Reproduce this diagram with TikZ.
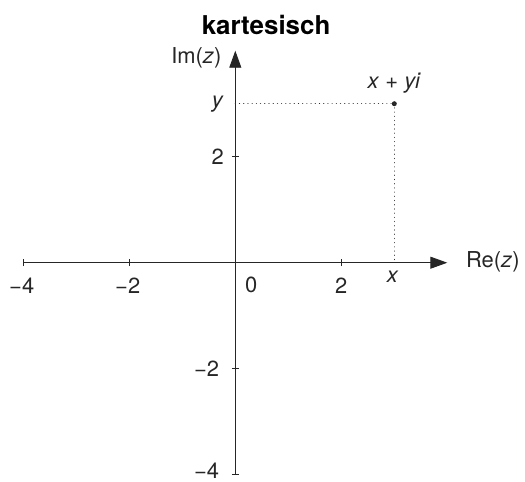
\documentclass[tikz,border=0pt]{standalone}
\usepackage{fontspec}
\setmainfont{TeX Gyre Heros}
\usetikzlibrary{arrows.meta}
\begin{document}
\begin{tikzpicture}[x=53bp,y=53bp,
  axis/.style={line width=0.9bp, draw=black!85},
  tick/.style={line width=0.7bp, draw=black!85},
  lbl/.style={font=\fontsize{22}{24}\selectfont, text=black!85, inner sep=0pt},
  ttl/.style={font=\fontsize{26}{28}\selectfont\bfseries, inner sep=0pt},
  guide/.style={line width=1.2bp, dash pattern=on 0.01bp off 4.2bp, line cap=round, draw=black!80}]
\useasboundingbox (-4.440,-4.119) rectangle (5.466,4.957);
\coordinate (xl) at (-4,0);
\coordinate (xr) at (4,0);
\coordinate (yb) at (0,-4);
\coordinate (yt) at (0,4);
\coordinate (px) at (3,0);
\coordinate (py) at (0,3);
\draw[axis, -{Triangle[length=17bp,width=12bp]}] (xl) -- (xr);
\draw[axis, -{Triangle[length=17bp,width=12bp]}] (yb) -- (yt);
\foreach \v in {-4,-2,2} {
  \draw[tick] (\v,-3.5bp) -- (\v,3.5bp);
  \draw[tick] (-3.5bp,\v) -- (3.5bp,\v);
}
\node[lbl] (tx4) at (-4.03,-0.43) {−4};
\node[lbl] (tx2) at (-2.03,-0.43) {−2};
\node[lbl] (t0) at (0.30,-0.42) {0};
\node[lbl] (tp2) at (2.0,-0.43) {2};
\node[lbl] (ty2) at (-0.33,2.0) {2};
\node[lbl] (tym2) at (-0.54,-2.0) {−2};
\node[lbl] (tym4) at (-0.54,-3.92) {−4};
\node[lbl, anchor=west] (re) at (4.35,0.01) {Re(\textit{z})};
\node[lbl, anchor=east] (im) at (-0.26,3.86) {Im(\textit{z})};
\node[ttl] (title) at (0.58,4.48) {kartesisch};
\node[circle, fill=black!85, inner sep=0pt, minimum size=5bp] (P) at (3,3) {};
\node[lbl] (zl) at (3.0,3.39) {\textit{x} + \textit{yi}};
\node[lbl] (xlab) at (2.97,-0.27) {\textit{x}};
\node[lbl] (ylab) at (-0.33,3.0) {\textit{y}};
\draw[guide] (py) -- (P.center);
\draw[guide] (P.center) -- (px);
\end{tikzpicture}
\end{document}
